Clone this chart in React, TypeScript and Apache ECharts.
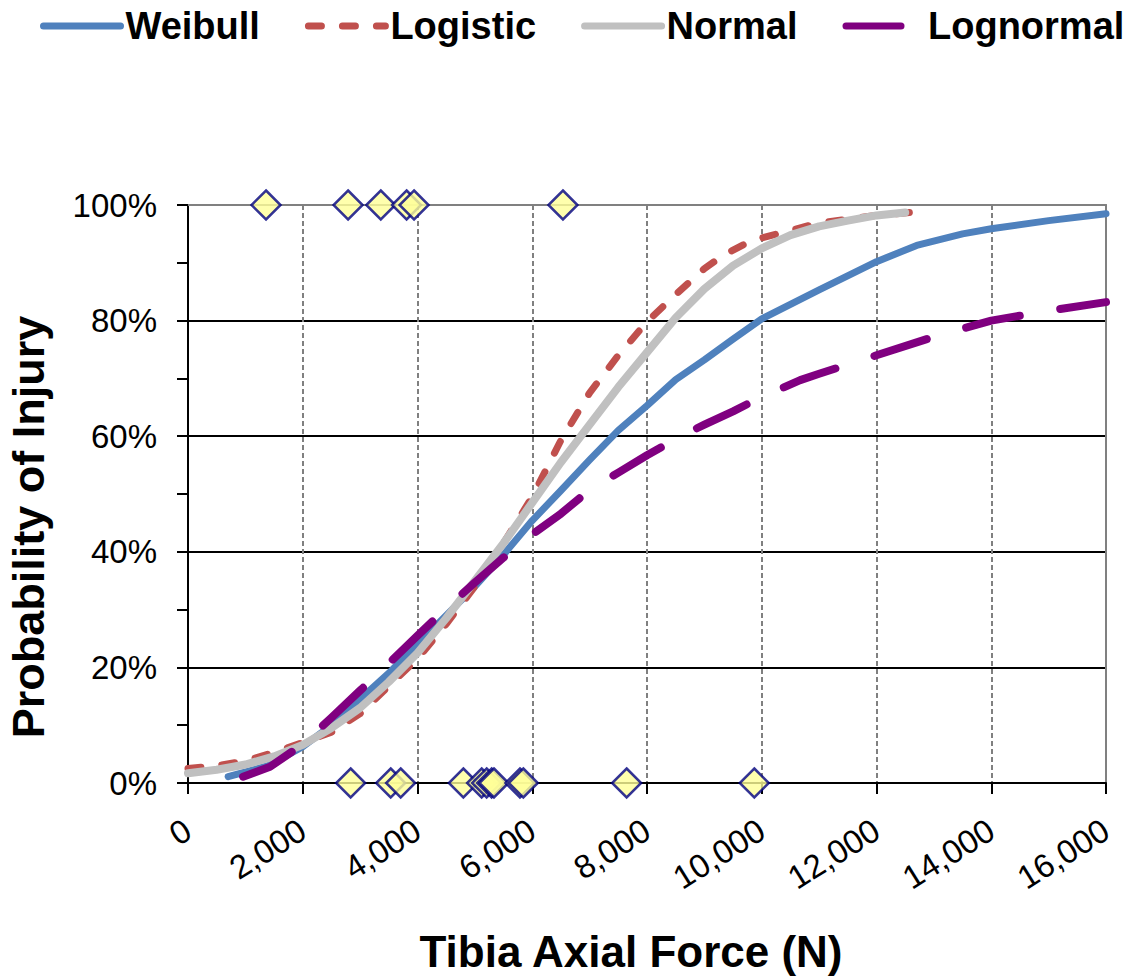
import React, { useEffect, useRef } from "react";
import * as echarts from "echarts";

const seriesNames = ["Weibull", "Logistic", "Normal", "Lognormal"];

const weibull: [number, number][] = [
  [700, 1.1], [1400, 3], [2000, 6.3], [2500, 10], [3000, 14.5], [3500, 19], [4000, 24],
  [4500, 29], [5000, 34], [5500, 39.5], [6000, 45.4], [6500, 50.6], [7000, 55.9], [7500, 61],
  [8000, 65.3], [8500, 69.8], [9000, 73.2], [9500, 76.8], [10000, 80.3], [11000, 85.3],
  [12000, 90.2], [12700, 93], [13500, 95], [14000, 95.9], [15000, 97.3], [16000, 98.5],
];

const logistic: [number, number][] = [
  [0, 2.5], [500, 3], [1000, 3.8], [1500, 5.3], [2000, 7], [2500, 8.8], [3000, 12],
  [3500, 16.8], [4000, 21.5], [4500, 27.5], [5000, 34], [5500, 41.5], [6000, 49.5],
  [6500, 59.3], [7000, 67.5], [7500, 74], [8000, 79.8], [8500, 84.5], [9000, 89],
  [9330, 91.3], [9737, 93.4], [10000, 94.3], [11000, 96.9], [12000, 98.2], [12580, 98.7],
];

const normal: [number, number][] = [
  [0, 1.7], [500, 2.3], [1000, 3.2], [1500, 4.6], [2000, 6.6], [2500, 9.5], [3000, 13],
  [3500, 17.5], [4000, 22.5], [4500, 28.5], [5000, 35], [5500, 41.5], [6000, 48.5],
  [6500, 55.5], [7000, 62], [7500, 68.5], [8000, 74.5], [8500, 80.5], [9000, 85.5],
  [9500, 89.5], [10000, 92.5], [10500, 94.8], [11000, 96.3], [11500, 97.3], [12000, 98.2],
  [12500, 98.7],
];

const lognormal: [number, number][] = [
  [960, 1.1], [1430, 2.8], [2000, 6.7], [2500, 11.3], [3000, 16], [3500, 20.7], [4000, 25.5],
  [4500, 30.2], [5000, 34.7], [5500, 39], [6000, 43], [6500, 46.6], [7000, 50.7],
  [7500, 53.7], [8000, 56.7], [8630, 60.2], [9000, 62], [9500, 64.3], [10000, 66.8],
  [10670, 69.7], [11000, 70.8], [12000, 74], [13000, 77.2], [14000, 80], [15000, 81.7],
  [16000, 83.2],
];

// observed tests: injured (100%) and uninjured (0%)
const injuredForces = [1360, 2790, 3360, 3810, 3940, 6535];
const uninjuredForces = [2835, 3533, 3707, 4799, 5118, 5205, 5292, 5333, 5786, 5844, 7645, 9870];

const xTickLabels = ["0", "2,000", "4,000", "6,000", "8,000", "10,000", "12,000", "14,000", "16,000"];

const FONT = "'Liberation Sans', Arial, sans-serif";

export default function App() {
  const ref = useRef<HTMLDivElement>(null);

  useEffect(() => {
    if (!ref.current) return;
    const chart = echarts.init(ref.current, null, { renderer: "svg" });

    const lineCommon = {
      type: "line",
      showSymbol: false,
      symbol: "none",
      smooth: false,
      xAxisIndex: 0,
      yAxisIndex: 0,
    };

    chart.setOption({
      animation: false,
      backgroundColor: "#ffffff",
      textStyle: { fontFamily: FONT },
      legend: {
        data: seriesNames,
        left: 35,
        top: 2,
        itemWidth: 77,
        itemHeight: 14,
        itemGap: 45,
        itemStyle: { opacity: 0 },
        lineStyle: { width: 7 },
        textStyle: { fontSize: 38, fontWeight: "bold", color: "#000", fontFamily: FONT },
      },
      grid: { left: 188, right: 27, top: 205, bottom: 195, containLabel: false },
      xAxis: [
        {
          type: "value",
          min: 0,
          max: 16000,
          interval: 2000,
          axisLine: { show: true, onZero: false, lineStyle: { color: "#000", width: 2 } },
          axisTick: { show: true, inside: false, length: 11, lineStyle: { color: "#000", width: 2 } },
          axisLabel: {
            rotate: 32,
            margin: 44,
            fontSize: 33,
            color: "#000",
            fontFamily: FONT,
            formatter: (v: number) => xTickLabels[Math.round(v / 2000)] ?? "",
          },
          splitLine: {
            show: true,
            showMinLine: false,
            showMaxLine: false,
            lineStyle: { color: "#808080", width: 2, type: [5, 3] },
          },
        },
        {
          type: "value",
          position: "top",
          min: 0,
          max: 16000,
          axisLine: { show: true, onZero: false, lineStyle: { color: "#808080", width: 2 } },
          axisTick: { show: false },
          axisLabel: { show: false },
          splitLine: { show: false },
        },
      ],
      yAxis: [
        {
          type: "value",
          min: 0,
          max: 100,
          interval: 20,
          axisLine: { show: true, onZero: false, lineStyle: { color: "#000", width: 2 } },
          axisTick: { show: true, inside: false, length: 11, lineStyle: { color: "#000", width: 2 } },
          minorTick: { show: true, splitNumber: 2, length: 11, lineStyle: { color: "#000", width: 2 } },
          axisLabel: {
            margin: 31,
            fontSize: 33,
            color: "#000",
            fontFamily: FONT,
            formatter: (v: number) => `${v}%`,
          },
          splitLine: {
            show: true,
            showMinLine: false,
            showMaxLine: false,
            lineStyle: { color: "#000", width: 2, type: "solid" },
          },
        },
        {
          type: "value",
          position: "right",
          min: 0,
          max: 100,
          axisLine: { show: true, onZero: false, lineStyle: { color: "#808080", width: 2 } },
          axisTick: { show: false },
          axisLabel: { show: false },
          splitLine: { show: false },
        },
      ],
      graphic: [
        {
          type: "text",
          x: 28,
          y: 527,
          rotation: Math.PI / 2,
          style: {
            text: "Probability of Injury",
            fontSize: 45,
            fontWeight: "bold",
            fontFamily: FONT,
            fill: "#000",
            align: "center",
            verticalAlign: "middle",
          },
        },
        {
          type: "text",
          x: 631,
          y: 951,
          style: {
            text: "Tibia Axial Force (N)",
            fontSize: 44,
            fontWeight: "bold",
            fontFamily: FONT,
            fill: "#000",
            align: "center",
            verticalAlign: "middle",
          },
        },
      ],
      series: [
        {
          ...lineCommon,
          name: "Weibull",
          data: weibull,
          z: 3,
          lineStyle: { color: "#4F81BD", width: 7, cap: "round", join: "round" },
          itemStyle: { color: "#4F81BD" },
        },
        {
          ...lineCommon,
          name: "Logistic",
          data: logistic,
          z: 4,
          lineStyle: { color: "#C0504D", width: 7, type: [13, 21], cap: "round", join: "round" },
          itemStyle: { color: "#C0504D" },
        },
        {
          ...lineCommon,
          name: "Normal",
          data: normal,
          z: 5,
          lineStyle: { color: "#C0C0C0", width: 8, cap: "round", join: "round" },
          itemStyle: { color: "#C0C0C0" },
        },
        {
          ...lineCommon,
          name: "Lognormal",
          data: lognormal,
          z: 6,
          lineStyle: { color: "#800080", width: 8, type: [55, 41], cap: "round", join: "round" },
          itemStyle: { color: "#800080" },
        },
        {
          type: "scatter",
          name: "Injured",
          data: injuredForces.map((f) => [f, 100]),
          symbol: "diamond",
          symbolSize: 29,
          clip: false,
          z: 10,
          itemStyle: { color: "#FFFF99", borderColor: "#000080", borderWidth: 2.5 },
        },
        {
          type: "scatter",
          name: "Uninjured",
          data: uninjuredForces.map((f) => [f, 0]),
          symbol: "diamond",
          symbolSize: 29,
          clip: false,
          z: 10,
          itemStyle: { color: "#FFFF99", borderColor: "#000080", borderWidth: 2.5 },
        },
      ],
    });

    return () => chart.dispose();
  }, []);

  return (
    <div
      ref={ref}
      style={{ position: "fixed", left: 0, top: 0, width: 1133, height: 978 }}
    />
  );
}
